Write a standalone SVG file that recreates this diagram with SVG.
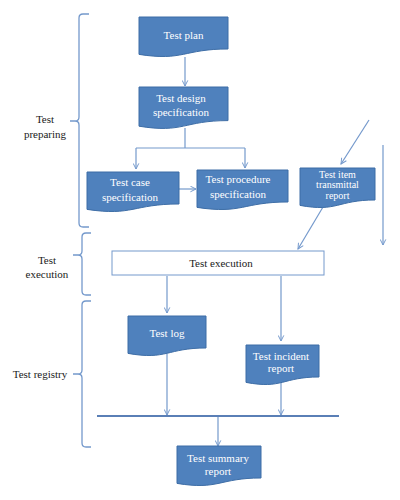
<svg xmlns="http://www.w3.org/2000/svg" width="400" height="500" viewBox="0 0 400 500">
<style>
.doc{fill:#4f81bd;stroke:#3d6da6;stroke-width:1}
.nt{font-family:"Liberation Serif",serif;font-size:11px;fill:#ffffff;text-anchor:middle}
.st{font-family:"Liberation Serif",serif;font-size:10px;fill:#ffffff;text-anchor:middle}
.lt{font-family:"Liberation Serif",serif;font-size:11px;fill:#1a1a1a;text-anchor:middle}
.c{fill:none;stroke:#7499cc;stroke-width:1.2}
.br{fill:none;stroke:#7499cc;stroke-width:1.3}
</style>
<defs>
<marker id="ah" viewBox="0 0 10 10" refX="9" refY="5" markerWidth="7" markerHeight="7" orient="auto" markerUnits="userSpaceOnUse">
<path d="M1,1 L9,5 L1,9" fill="none" stroke="#7499cc" stroke-width="1.4"/>
</marker>
</defs>
<rect width="400" height="500" fill="#ffffff"/>
<g id="braces">
<path class="br" d="M89,14 H83 Q79,14 79,18 V117 Q79,121 75,121 H70 M75,121 Q79,121 79,125 V223 Q79,227 83,227 H89"/>
<path class="br" d="M91,233 H86 Q82,233 82,237 V251 Q82,255 78,255 H73 M78,255 Q82,255 82,259 V291 Q82,295 86,295 H91"/>
<path class="br" d="M91,301 H86 Q82,301 82,305 V370 Q82,374 78,374 H73 M78,374 Q82,374 82,378 V443 Q82,447 86,447 H91"/>
</g>
<g id="labels">
<text class="lt" x="45" y="123">Test</text>
<text class="lt" x="45" y="138">preparing</text>
<text class="lt" x="47" y="264">Test</text>
<text class="lt" x="47" y="278">execution</text>
<text class="lt" x="40" y="378">Test registry</text>
</g>
<g id="connectors">
<line class="c" x1="185" y1="57" x2="185" y2="86" marker-end="url(#ah)"/>
<path class="c" d="M185,128 V148"/>
<path class="c" d="M136,148 H245"/>
<line class="c" x1="136" y1="148" x2="136" y2="169" marker-end="url(#ah)"/>
<line class="c" x1="245" y1="148" x2="245" y2="168" marker-end="url(#ah)"/>
<line class="c" x1="179" y1="189" x2="196" y2="189" marker-end="url(#ah)"/>
<line class="c" x1="369" y1="120" x2="341" y2="164" marker-end="url(#ah)"/>
<line class="c" x1="323" y1="207" x2="298" y2="249" marker-end="url(#ah)"/>
<line class="c" x1="383" y1="145" x2="383" y2="245" marker-end="url(#ah)"/>
<line class="c" x1="167" y1="276" x2="167" y2="313" marker-end="url(#ah)"/>
<line class="c" x1="281" y1="276" x2="281" y2="341" marker-end="url(#ah)"/>
<line class="c" x1="167" y1="354" x2="167" y2="415" marker-end="url(#ah)"/>
<line class="c" x1="281" y1="383" x2="281" y2="415" marker-end="url(#ah)"/>
<line x1="97" y1="416" x2="339" y2="416" stroke="#5a7fb6" stroke-width="2"/>
<line class="c" x1="218" y1="417" x2="218" y2="446" marker-end="url(#ah)"/>
</g>
<g id="test-plan">
<path class="doc" d="M139,17 H228 V49 C183.5,49 183.5,61.3 139,54.4 Z"/>
<text class="nt" x="183.5" y="39">Test plan</text>
</g>
<g id="test-design">
<path class="doc" d="M139,87 H228 V120.6 C183.5,120.6 183.5,133.5 139,126.2 Z"/>
<text class="nt" x="181" y="102">Test design</text>
<text class="nt" x="181" y="116">specification</text>
</g>
<g id="test-case">
<path class="doc" d="M87,172 H179 V204 C133,204 133,216.3 87,209.4 Z"/>
<text class="nt" x="130" y="186">Test case</text>
<text class="nt" x="130" y="201">specification</text>
</g>
<g id="test-procedure">
<path class="doc" d="M197,170 H288 V202 C242.5,202 242.5,214.3 197,207.4 Z"/>
<text class="nt" x="238" y="183">Test procedure</text>
<text class="nt" x="238" y="198">specification</text>
</g>
<g id="test-item">
<path class="doc" d="M300,168 H375 V200 C337.5,200 337.5,212.3 300,205.4 Z"/>
<text class="st" x="337.5" y="177.5">Test item</text>
<text class="st" x="337.5" y="188">transmittal</text>
<text class="st" x="337.5" y="198.5">report</text>
</g>
<g id="test-execution">
<rect x="112" y="251" width="212" height="24" fill="#ffffff" stroke="#7499cc" stroke-width="1"/>
<text class="lt" x="221" y="267">Test execution</text>
</g>
<g id="test-log">
<path class="doc" d="M128,316 H206 V348 C167,348 167,360.3 128,353.4 Z"/>
<text class="nt" x="167" y="337">Test log</text>
</g>
<g id="test-incident">
<path class="doc" d="M246,345 H319 V377 C282.5,377 282.5,389.3 246,382.4 Z"/>
<text class="nt" x="281" y="360">Test incident</text>
<text class="nt" x="281" y="372">report</text>
</g>
<g id="test-summary">
<path class="doc" d="M177,446 H261 V478 C219,478 219,490.3 177,483.4 Z"/>
<text class="nt" x="218" y="462">Test summary</text>
<text class="nt" x="218" y="475">report</text>
</g>
</svg>
